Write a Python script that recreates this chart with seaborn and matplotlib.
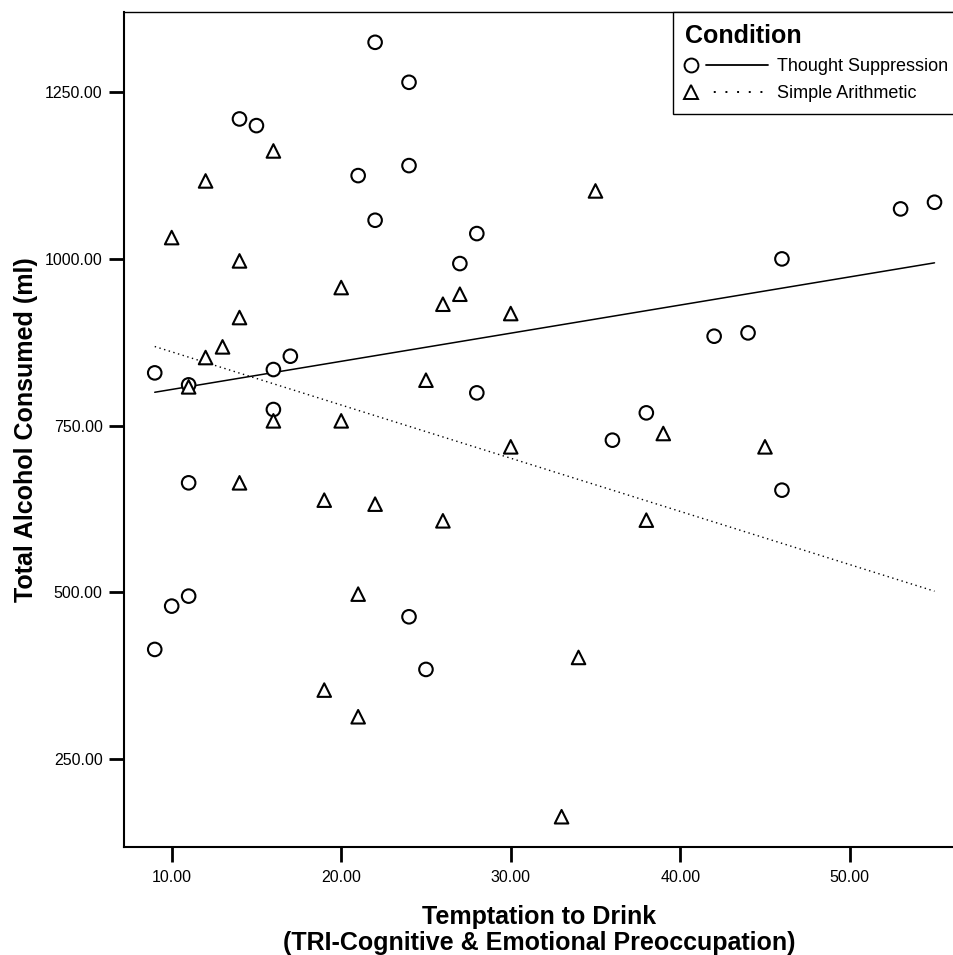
import numpy as np
import pandas as pd
import matplotlib
matplotlib.use("Agg")
import matplotlib.pyplot as plt
from matplotlib.lines import Line2D
from matplotlib.legend_handler import HandlerBase
from matplotlib.ticker import FormatStrFormatter
import seaborn as sns

# Thought Suppression group (circles)
ts_x = [22, 24, 14, 15, 21, 24, 22, 28, 27, 17, 9, 16, 11, 16, 28, 11, 10, 11, 9,
        24, 25, 53, 55, 46, 42, 44, 38, 36, 46]
ts_y = [1325, 1265, 1210, 1200, 1125, 1140, 1058, 1038, 993, 854, 829, 834, 811, 774,
        799, 664, 479, 494, 414, 463, 384, 1075, 1085, 1000, 884, 889, 769, 728, 653]

# Simple Arithmetic group (triangles)
sa_x = [16, 12, 10, 14, 20, 27, 26, 14, 13, 12, 11, 25, 16, 20, 35, 30, 30, 39, 45,
        14, 19, 22, 26, 21, 19, 21, 38, 34, 33]
sa_y = [1162, 1117, 1032, 997, 957, 947, 932, 912, 868, 852, 808, 818, 757, 757, 1102,
        918, 718, 738, 718, 664, 638, 632, 607, 497, 353, 313, 608, 402, 163]

conditions = ["Thought Suppression", "Simple Arithmetic"]
x_ticks = [10, 20, 30, 40, 50]
y_ticks = [250, 500, 750, 1000, 1250]

df = pd.DataFrame({
    "TRI": ts_x + sa_x,
    "Alcohol": ts_y + sa_y,
    "Condition": [conditions[0]] * len(ts_x) + [conditions[1]] * len(sa_x),
})

sns.set_style("ticks")
plt.rcParams["font.family"] = ["Liberation Sans", "DejaVu Sans"]
plt.rcParams["text.color"] = "black"
plt.rcParams["axes.labelcolor"] = "black"
plt.rcParams["xtick.color"] = "black"
plt.rcParams["ytick.color"] = "black"


class MarkerThenLine(HandlerBase):
    # SPSS style legend key: marker on the left, line to the right of it
    def create_artists(self, legend, orig_handle, xdescent, ydescent,
                       width, height, fontsize, trans):
        y = height / 2 - ydescent
        x0 = -xdescent
        mark = Line2D([x0 + 0.35 * fontsize], [y], ls="none",
                      marker=orig_handle.get_marker(), ms=orig_handle.get_markersize(),
                      mfc="white", mec="black", mew=1.4)
        line = Line2D([x0 + 1.15 * fontsize, x0 + width], [y, y])
        line.update_from(orig_handle)
        line.set_marker("")
        mark.set_transform(trans)
        line.set_transform(trans)
        return [mark, line]


fig = plt.figure(figsize=(9.54, 9.55), dpi=100)
ax = fig.add_axes([0.1295, 0.1134, 0.8705, 0.8737])

sns.scatterplot(data=df, x="TRI", y="Alcohol", style="Condition",
                markers={conditions[0]: "o", conditions[1]: "^"},
                color="white", edgecolor="black", linewidth=1.5, s=95,
                legend=False, ax=ax, zorder=3)

# fit lines for each subgroup across the full x range
x_lo, x_hi = df["TRI"].min(), df["TRI"].max()
styles = {conditions[0]: dict(ls="-", lw=1.1), conditions[1]: dict(ls=(0, (1, 2.5)), lw=1.0)}
for cond in conditions:
    sub = df[df["Condition"] == cond]
    b, a = np.polyfit(sub["TRI"], sub["Alcohol"], 1)
    fit = pd.DataFrame({"TRI": [x_lo, x_hi], "Alcohol": [a + b * x_lo, a + b * x_hi]})
    sns.lineplot(data=fit, x="TRI", y="Alcohol", color="black", ax=ax, **styles[cond])

ax.set_xlim(7.16, 56.15)
ax.set_ylim(118, 1370)
ax.set_xticks(x_ticks)
ax.set_yticks(y_ticks)
ax.xaxis.set_major_formatter(FormatStrFormatter("%.2f"))
ax.yaxis.set_major_formatter(FormatStrFormatter("%.2f"))
ax.tick_params(direction="out", length=11, width=2, labelsize=11.5, color="black")
ax.tick_params(axis="x", pad=6)
ax.tick_params(axis="y", pad=4)

ax.spines["right"].set_visible(False)
ax.spines["left"].set_linewidth(1.5)
ax.spines["bottom"].set_linewidth(1.5)
ax.spines["top"].set_linewidth(1.0)
for s in ax.spines.values():
    s.set_color("black")

ax.set_xlabel("Temptation to Drink\n(TRI-Cognitive & Emotional Preoccupation)",
              fontsize=18, fontweight="bold", labelpad=14, linespacing=1.1)
ax.set_ylabel("Total Alcohol Consumed (ml)", fontsize=18, fontweight="bold", labelpad=5)

handles = [Line2D([], [], color="black", marker="o", ms=10, ls="-", lw=1.3),
           Line2D([], [], color="black", marker="^", ms=10, ls=(2, (1, 5)), lw=1.4)]
leg = fig.legend(handles, conditions, handler_map={Line2D: MarkerThenLine()},
                 loc="upper left", bbox_to_anchor=(673.3 / 954, 1 - 12.3 / 955),
                 borderaxespad=0, title="Condition", alignment="left",
                 title_fontproperties={"weight": "bold", "size": 18},
                 fontsize=13, handlelength=4.6, handletextpad=0.5, labelspacing=0.55,
                 borderpad=0.65, fancybox=False, framealpha=1, edgecolor="black")
leg.get_frame().set_linewidth(1.0)

fig.savefig("out.png", dpi=100)
